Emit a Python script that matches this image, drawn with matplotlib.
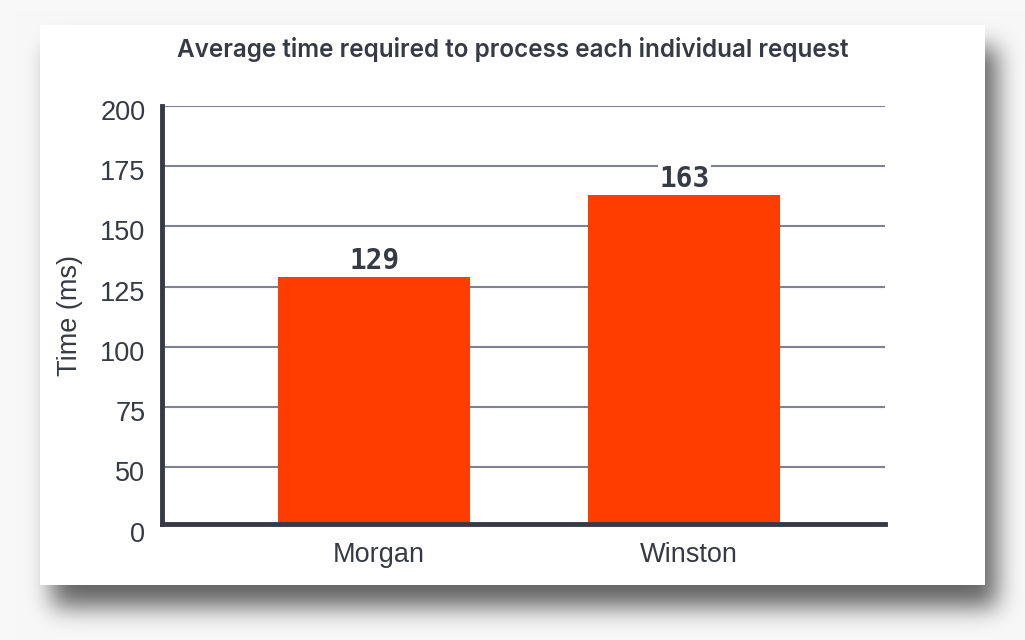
import numpy as np
import matplotlib.pyplot as plt
import matplotlib.transforms as mtransforms

# data
names = ["Morgan", "Winston"]
times = [129, 163]
y_bottom = 26.5  # axis starts a little above 0, but is labelled "0"
ytick_vals = [y_bottom, 50, 75, 100, 125, 150, 175, 200]
ytick_labels = ["0", "50", "75", "100", "125", "150", "175", "200"]

text_col = "#363a45"
grid_col = "#7d8194"
bar_col = "#ff3d00"

W, H = 1025, 640
fig = plt.figure(figsize=(10.25, 6.4), dpi=100)

# background: light page + blurred shadow + white card, built as an image
def blur(a, sigma):
    r = int(3 * sigma)
    k = np.exp(-0.5 * (np.arange(-r, r + 1) / sigma) ** 2)
    k /= k.sum()
    a = np.apply_along_axis(lambda m: np.convolve(m, k, mode="same"), 0, a)
    a = np.apply_along_axis(lambda m: np.convolve(m, k, mode="same"), 1, a)
    return a

shadow = np.zeros((H, W))
shadow[25 + 22:585 + 22, 40 + 12:985 + 12] = 1.0
shadow = blur(shadow, 12) * 0.6
bg = 248 / 255 * (1 - shadow)
bg[25:585, 40:985] = 1.0
img = np.dstack([bg, bg, bg])
fig.figimage(img, 0, 0, origin="upper", zorder=0)

ax = fig.add_axes([162 / W, 1 - 524 / H, (885 - 162) / W, (524 - 106) / H])
ax.set_facecolor("none")
ax.set_zorder(2)

x = np.arange(len(names))
bars = ax.bar(x, times, width=0.62, color=bar_col, zorder=2)
for b, v in zip(bars, times):
    ax.annotate(str(v), (b.get_x() + b.get_width() / 2, v), xytext=(1, 2),
                textcoords="offset pixels", ha="center", va="bottom",
                fontsize=20, fontweight="bold", family="DejaVu Sans Mono", color=text_col,
                bbox=dict(facecolor="white", edgecolor="none", pad=1), zorder=3)

ax.set_xlim(-0.685, 1.65)
ax.set_ylim(y_bottom, 200)
ax.set_yticks(ytick_vals)
ax.set_yticklabels(ytick_labels)
ax.set_xticks(x)
ax.set_xticklabels(names)
ax.tick_params(axis="both", length=0, labelsize=19.5, colors=text_col, labelfontfamily="Liberation Sans")
ax.tick_params(axis="y", pad=12)
ax.tick_params(axis="x", pad=13)
# labels sit a touch below their grid lines
shift = mtransforms.ScaledTranslation(0, -0.04, fig.dpi_scale_trans)
for lab in ax.get_yticklabels():
    lab.set_transform(lab.get_transform() + shift)
ylabs = ax.get_yticklabels()
ylabs[0].set_transform(ylabs[0].get_transform() + mtransforms.ScaledTranslation(0, -0.04, fig.dpi_scale_trans))
xshift = mtransforms.ScaledTranslation(0.05, 0, fig.dpi_scale_trans)
for lab in ax.get_xticklabels():
    lab.set_transform(lab.get_transform() + xshift)

ax.yaxis.grid(True, color=grid_col, linewidth=1.5, zorder=0)
ax.set_axisbelow(True)

for s in ["top", "right"]:
    ax.spines[s].set_visible(False)
for s in ["left", "bottom"]:
    ax.spines[s].set_color(text_col)
    ax.spines[s].set_linewidth(3.5)

ax.set_ylabel("Time (ms)", fontsize=19.5, color=text_col, family="Liberation Sans", labelpad=12)

fig.text(513 / W, 1 - 49 / H, "Average time required to process each individual request",
         ha="center", va="center", fontsize=17.5, fontweight="semibold", family="Inter",
         color=text_col, zorder=3)

fig.savefig("out.png", dpi=100)
